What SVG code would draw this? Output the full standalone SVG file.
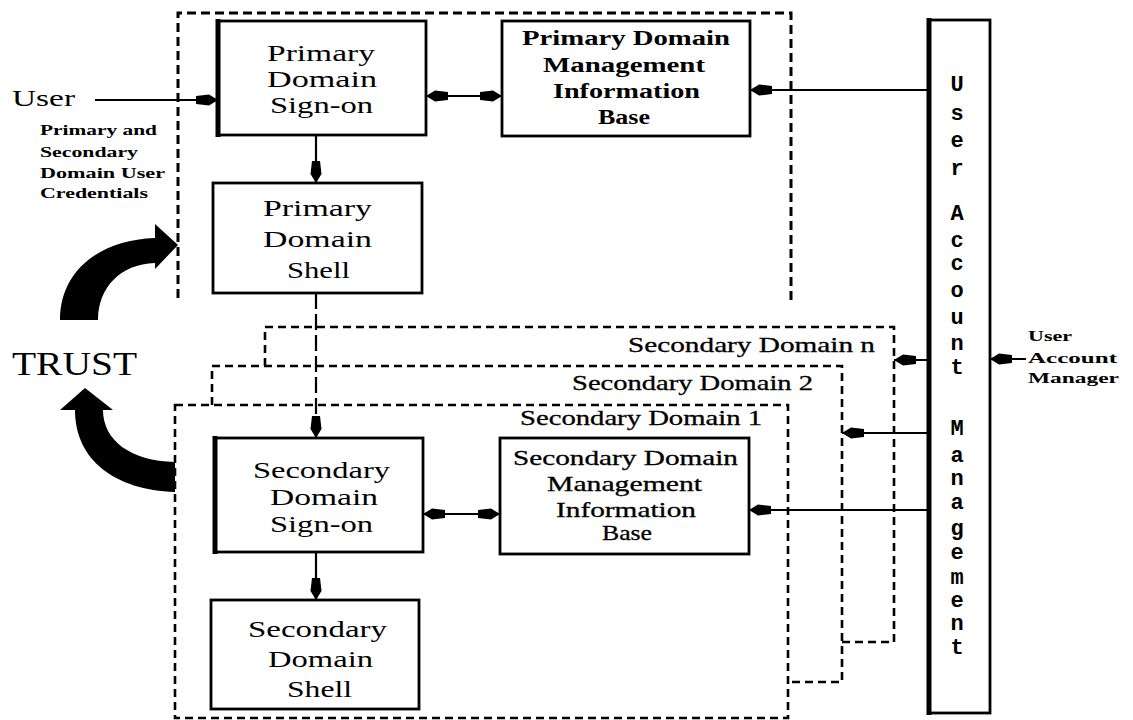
<svg xmlns="http://www.w3.org/2000/svg" width="1133" height="720" viewBox="0 0 1133 720">
<defs>
<style>
.box{fill:none;stroke:#000;stroke-width:2.8}
.thick{stroke:#000;stroke-width:5}
.dash1{fill:none;stroke:#000;stroke-width:3;stroke-dasharray:9 5}
.dash2{fill:none;stroke:#000;stroke-width:2.6;stroke-dasharray:8 5}
.ln{fill:none;stroke:#000;stroke-width:2.2}
.dln{fill:none;stroke:#000;stroke-width:2.2;stroke-dasharray:16 5}
.t{font-family:"Liberation Serif","Times New Roman",serif;font-size:24px;fill:#000}
.tb{font-family:"Liberation Serif","Times New Roman",serif;font-size:20px;font-weight:bold;fill:#000}
.ts{font-family:"Liberation Serif","Times New Roman",serif;font-size:21px;fill:#000;stroke:#000;stroke-width:0.3}
.tc{font-family:"Liberation Serif","Times New Roman",serif;font-size:14px;font-weight:bold;fill:#000}
.tm{font-family:"Liberation Mono","Courier New",monospace;font-size:22px;font-weight:bold;fill:#000;text-anchor:middle}
</style>
<marker id="ah" markerUnits="userSpaceOnUse" markerWidth="26" markerHeight="14" refX="24" refY="6" orient="auto-start-reverse" viewBox="0 0 26 12">
<path d="M24,6 L15,0.5 L2,2 L2,10 L15,11.5 Z" fill="#000"/>
</marker>
</defs>

<g id="domains">
<path id="primary-domain" class="dash1" d="M178,298 L178,13 L791,13 L791,300"/>
<path id="secondary-domain-n" class="dash2" d="M265,366 L265,327 L894,327 L894,642 L842,642"/>
<path id="secondary-domain-2" class="dash2" d="M212,405 L212,366 L842,366 L842,682 L788,682"/>
<rect id="secondary-domain-1" class="dash2" x="175" y="405" width="613" height="313"/>
<text class="ts" x="628" y="352" textLength="247" lengthAdjust="spacingAndGlyphs">Secondary Domain n</text>
<text class="ts" x="572" y="390" textLength="241" lengthAdjust="spacingAndGlyphs">Secondary Domain 2</text>
<text class="ts" x="520" y="425" textLength="242" lengthAdjust="spacingAndGlyphs">Secondary Domain 1</text>
</g>

<g id="user-label">
<text class="t" x="12" y="106" textLength="63" lengthAdjust="spacingAndGlyphs">User</text>
<text class="tc" x="40" y="135" textLength="117" lengthAdjust="spacingAndGlyphs">Primary and</text>
<text class="tc" x="40" y="157" textLength="98" lengthAdjust="spacingAndGlyphs">Secondary</text>
<text class="tc" x="40" y="178" textLength="125" lengthAdjust="spacingAndGlyphs">Domain User</text>
<text class="tc" x="40" y="198" textLength="108" lengthAdjust="spacingAndGlyphs">Credentials</text>
</g>

<g id="primary-signon">
<rect class="box" x="218" y="21" width="208" height="114"/>
<line class="thick" x1="218" y1="19" x2="218" y2="137"/>
<text class="t" x="267" y="61" textLength="108" lengthAdjust="spacingAndGlyphs">Primary</text>
<text class="t" x="267" y="87" textLength="110" lengthAdjust="spacingAndGlyphs">Domain</text>
<text class="t" x="270" y="113" textLength="103" lengthAdjust="spacingAndGlyphs">Sign-on</text>
</g>

<g id="primary-shell">
<rect class="box" x="213" y="183" width="209" height="110"/>
<text class="t" x="263" y="216" textLength="109" lengthAdjust="spacingAndGlyphs">Primary</text>
<text class="t" x="263" y="247" textLength="109" lengthAdjust="spacingAndGlyphs">Domain</text>
<text class="t" x="287" y="278" textLength="63" lengthAdjust="spacingAndGlyphs">Shell</text>
</g>

<g id="primary-mib">
<rect class="box" x="502" y="21" width="248" height="115"/>
<text class="tb" x="522" y="45" textLength="208" lengthAdjust="spacingAndGlyphs">Primary Domain</text>
<text class="tb" x="543" y="72" textLength="162" lengthAdjust="spacingAndGlyphs">Management</text>
<text class="tb" x="553" y="98" textLength="147" lengthAdjust="spacingAndGlyphs">Information</text>
<text class="tb" x="598" y="124" textLength="52" lengthAdjust="spacingAndGlyphs">Base</text>
</g>

<g id="user-account-management">
<rect class="box" x="929" y="20" width="61" height="693"/>
<line class="thick" x1="929" y1="18" x2="929" y2="715"/>
<text class="tm" x="957" y="91">U</text>
<text class="tm" x="957" y="120">s</text>
<text class="tm" x="957" y="147">e</text>
<text class="tm" x="957" y="175">r</text>
<text class="tm" x="957" y="220">A</text>
<text class="tm" x="957" y="247">c</text>
<text class="tm" x="957" y="270">c</text>
<text class="tm" x="957" y="297">o</text>
<text class="tm" x="957" y="324">u</text>
<text class="tm" x="957" y="350">n</text>
<text class="tm" x="957" y="374">t</text>
<text class="tm" x="957" y="435">M</text>
<text class="tm" x="957" y="462">a</text>
<text class="tm" x="957" y="485">n</text>
<text class="tm" x="957" y="509">a</text>
<text class="tm" x="957" y="535">g</text>
<text class="tm" x="957" y="559">e</text>
<text class="tm" x="957" y="584">m</text>
<text class="tm" x="957" y="607">e</text>
<text class="tm" x="957" y="630">n</text>
<text class="tm" x="957" y="654">t</text>
</g>

<g id="user-account-manager">
<text class="tc" x="1028" y="341" textLength="44" lengthAdjust="spacingAndGlyphs">User</text>
<text class="tc" x="1028" y="363" textLength="89" lengthAdjust="spacingAndGlyphs">Account</text>
<text class="tc" x="1028" y="383" textLength="91" lengthAdjust="spacingAndGlyphs">Manager</text>
</g>

<g id="trust">
<text class="t" x="12" y="375" style="font-size:34px" textLength="125" lengthAdjust="spacingAndGlyphs">TRUST</text>
<path d="M60,320 C60,272 98,240 155,238 L155,224 L178,245 L155,269 L155,263 C120,264 98,288 98,320 Z" fill="#000"/>
<path d="M60,410 L85,388 L113,410 L103,410 C103,440 130,461 175,462 L175,492 C115,490 75,460 75,410 Z" fill="#000"/>
</g>

<g id="secondary-signon">
<rect class="box" x="215" y="438" width="208" height="114"/>
<line class="thick" x1="215" y1="436" x2="215" y2="554"/>
<text class="t" x="253" y="478" textLength="137" lengthAdjust="spacingAndGlyphs">Secondary</text>
<text class="t" x="270" y="505" textLength="108" lengthAdjust="spacingAndGlyphs">Domain</text>
<text class="t" x="270" y="532" textLength="103" lengthAdjust="spacingAndGlyphs">Sign-on</text>
</g>

<g id="secondary-shell">
<rect class="box" x="211" y="600" width="208" height="109"/>
<text class="t" x="248" y="637" textLength="139" lengthAdjust="spacingAndGlyphs">Secondary</text>
<text class="t" x="268" y="667" textLength="105" lengthAdjust="spacingAndGlyphs">Domain</text>
<text class="t" x="287" y="697" textLength="65" lengthAdjust="spacingAndGlyphs">Shell</text>
</g>

<g id="secondary-mib">
<rect class="box" x="500" y="438" width="249" height="116"/>
<text class="ts" x="513" y="465" textLength="225" lengthAdjust="spacingAndGlyphs">Secondary Domain</text>
<text class="ts" x="547" y="491" textLength="155" lengthAdjust="spacingAndGlyphs">Management</text>
<text class="ts" x="556" y="517" textLength="140" lengthAdjust="spacingAndGlyphs">Information</text>
<text class="ts" x="602" y="540" textLength="50" lengthAdjust="spacingAndGlyphs">Base</text>
</g>

<g id="connectors">
<line class="ln" x1="95" y1="100" x2="218" y2="100" marker-end="url(#ah)"/>
<line class="ln" x1="316" y1="135" x2="316" y2="183" marker-end="url(#ah)"/>
<line class="ln" x1="426" y1="96" x2="502" y2="96" marker-start="url(#ah)" marker-end="url(#ah)"/>
<line class="ln" x1="929" y1="90" x2="750" y2="90" marker-end="url(#ah)"/>
<line class="dln" x1="316" y1="293" x2="316" y2="420"/>
<line class="ln" x1="316" y1="418" x2="316" y2="438" marker-end="url(#ah)"/>
<line class="ln" x1="316" y1="552" x2="316" y2="600" marker-end="url(#ah)"/>
<line class="ln" x1="423" y1="514" x2="500" y2="514" marker-start="url(#ah)" marker-end="url(#ah)"/>
<line class="ln" x1="929" y1="360" x2="894" y2="360" marker-end="url(#ah)"/>
<line class="ln" x1="929" y1="433" x2="842" y2="433" marker-end="url(#ah)"/>
<line class="ln" x1="929" y1="510" x2="749" y2="510" marker-end="url(#ah)"/>
<line class="ln" x1="1026" y1="359" x2="990" y2="359" marker-end="url(#ah)"/>
</g>
</svg>
